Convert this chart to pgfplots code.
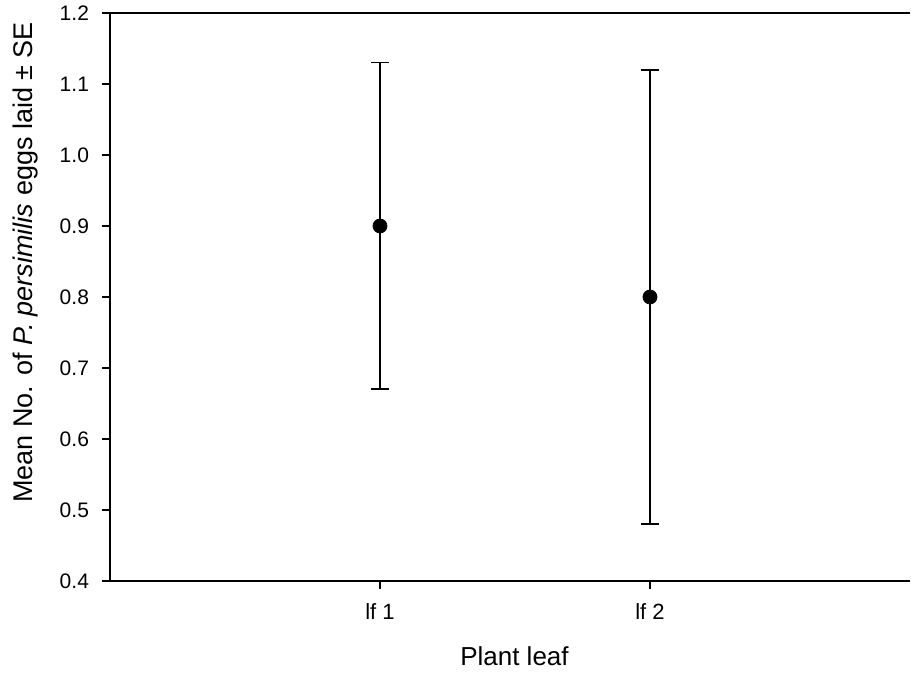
\documentclass[border=0pt]{standalone}
\usepackage{fontspec}
\setmainfont{Liberation Sans}
\usepackage{pgfplots}
\pgfplotsset{compat=1.18}

\begin{document}
\begin{tikzpicture}
% page size: 1px of the reference = 0.5pt
\useasboundingbox (-55pt,-49pt) rectangle (401pt,290.5pt);
\begin{axis}[
  scale only axis, width=400pt, height=284pt,
  at={(0,0)}, anchor=south west,
  xmin=0, xmax=2.963, ymin=0.4, ymax=1.2,
  axis x line*=box, axis y line*=left,
  axis line style={-, line width=0.8pt, black},
  xtick={1,2}, xticklabels={lf 1, lf 2}, xtick pos=bottom,
  ytick={0.4,0.5,...,1.21}, ytick pos=left,
  tick align=outside, major tick length=4pt,
  tick style={line width=0.8pt, black},
  /pgf/number format/assume math mode=true,
  yticklabel style={/pgf/number format/fixed, /pgf/number format/fixed zerofill,
                    /pgf/number format/precision=1, font=\fontsize{10.5}{12}\selectfont, xshift=-3pt},
  xticklabel style={font=\fontsize{11}{13}\selectfont, yshift=-4pt},
  xlabel={Plant leaf},
  ylabel={Mean No. of \textit{P. persimilis} eggs laid ± SE},
  every axis x label/.style={at={(axis description cs:0.5056,-0.1496)}, anchor=base,
                             font=\fontsize{13}{15}\selectfont},
  every axis y label/.style={at={(axis description cs:-0.09625,0.561)}, rotate=90, anchor=base,
                             font=\fontsize{13.5}{16}\selectfont},
  clip=false,
]
\addplot[only marks, mark=*, mark size=3.5pt, black,
  error bars/.cd, y dir=both, y explicit,
  error bar style={line width=0.8pt, black},
  error mark options={rotate=90, line width=0.8pt, mark size=4.5pt, black}]
  coordinates {
    (1,0.90) +- (0,0.23)
    (2,0.80) +- (0,0.32)
  };
\end{axis}
\end{tikzpicture}
\end{document}
